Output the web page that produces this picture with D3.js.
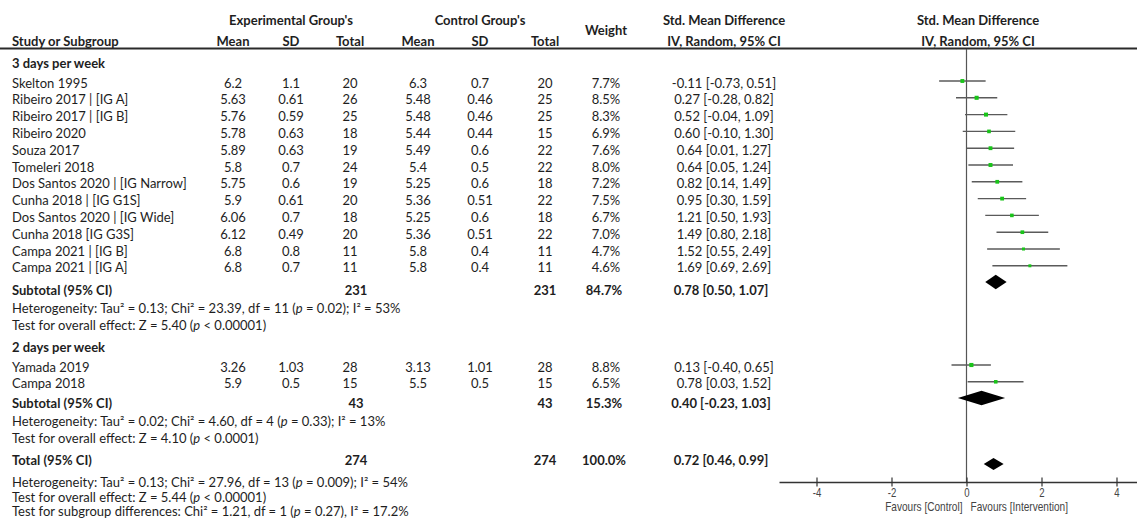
<!DOCTYPE html>
<html>
<head>
<meta charset="utf-8">
<script src="https://cdn.jsdelivr.net/npm/d3@7"></script>
<style>
  body { margin: 0; background: #fff; }
  svg { display: block; }
  text { font-family: Lato, "Open Sans", sans-serif; font-size: 13px; fill: #1e1e1e; }
  .b { font-weight: bold; }
  .ax text { font-family: "Liberation Sans Narrow", "Liberation Sans", Arial, sans-serif; font-size: 12px; fill: #444; }
</style>
</head>
<body>
<div id="chart"></div>
<script>
// studies, in plot order
const studyNames = ['Skelton 1995', 'Ribeiro 2017 | [IG A]', 'Ribeiro 2017 | [IG B]', 'Ribeiro 2020',
  'Souza 2017', 'Tomeleri 2018', 'Dos Santos 2020 | [IG Narrow]', 'Cunha 2018 | [IG G1S]',
  'Dos Santos 2020 | [IG Wide]', 'Cunha 2018 [IG G3S]', 'Campa 2021 | [IG B]', 'Campa 2021 | [IG A]',
  'Yamada 2019', 'Campa 2018']
const studyGroup = [0, 0, 0, 0, 0, 0, 0, 0, 0, 0, 0, 0, 1, 1]
const expMean = [6.2, 5.63, 5.76, 5.78, 5.89, 5.8, 5.75, 5.9, 6.06, 6.12, 6.8, 6.8, 3.26, 5.9]
const expSD = [1.1, 0.61, 0.59, 0.63, 0.63, 0.7, 0.6, 0.61, 0.7, 0.49, 0.8, 0.7, 1.03, 0.5]
const expN = [20, 26, 25, 18, 19, 24, 19, 20, 18, 20, 11, 11, 28, 15]
const ctrlMean = [6.3, 5.48, 5.48, 5.44, 5.49, 5.4, 5.25, 5.36, 5.25, 5.36, 5.8, 5.8, 3.13, 5.5]
const ctrlSD = [0.7, 0.46, 0.46, 0.44, 0.6, 0.5, 0.6, 0.51, 0.6, 0.51, 0.4, 0.4, 1.01, 0.5]
const ctrlN = [20, 25, 25, 15, 22, 22, 18, 22, 18, 22, 11, 11, 28, 15]
const weight = [7.7, 8.5, 8.3, 6.9, 7.6, 8.0, 7.2, 7.5, 6.7, 7.0, 4.7, 4.6, 8.8, 6.5]
const smd = [-0.11, 0.27, 0.52, 0.60, 0.64, 0.64, 0.82, 0.95, 1.21, 1.49, 1.52, 1.69, 0.13, 0.78]
const ciLow = [-0.73, -0.28, -0.04, -0.10, 0.01, 0.05, 0.14, 0.30, 0.50, 0.80, 0.55, 0.69, -0.40, 0.03]
const ciHigh = [0.51, 0.82, 1.09, 1.30, 1.27, 1.24, 1.49, 1.59, 1.93, 2.18, 2.49, 2.69, 0.65, 1.52]

// subgroups + overall
const groupNames = ['3 days per week', '2 days per week']
const groupExpN = [231, 43]
const groupCtrlN = [231, 43]
const groupWeight = [84.7, 15.3]
const groupSmd = [0.78, 0.40]
const groupLow = [0.50, -0.23]
const groupHigh = [1.07, 1.03]
const groupHet = ['Heterogeneity: Tau² = 0.13; Chi² = 23.39, df = 11 (p  = 0.02); I² = 53%',
  'Heterogeneity: Tau² = 0.02; Chi² = 4.60, df = 4 (p  = 0.33); I² = 13%']
const groupTest = ['Test for overall effect: Z = 5.40 (p < 0.00001)',
  'Test for overall effect: Z = 4.10 (p < 0.0001)']

const totalExpN = 274
const totalCtrlN = 274
const totalWeight = 100.0
const totalSmd = [0.72, 0.46, 0.99]
const totalNotes = ['Heterogeneity: Tau² = 0.13; Chi² = 27.96, df = 13 (p  = 0.009); I² = 54%',
  'Test for overall effect: Z = 5.44 (p < 0.00001)',
  'Test for subgroup differences: Chi² = 1.21, df = 1 (p  = 0.27), I² = 17.2%']

const axisTicks = [-4, -2, 0, 2, 4]

let width = 1137
let height = 519

// column centres
let col = { name: 12, eMean: 233, eSD: 291, eN: 350, cMean: 418, cSD: 480, cN: 545, w: 606, smd: 724, plot: 978 }

// row layout (text centre lines)
let rowStep = 16.8
let groupTop = [63, 347]
let groupFirst = [83, 367]
let subtotalY = [290, 403]
let totalY = 460
let notesY = [482, 497, 511]
let diamondY = [282, 398, 464]

let svg = d3.select('#chart').append('svg')
  .attr('width', width)
  .attr('height', height)

let x = d3.scaleLinear().domain([-5, 5]).range([779, 1154])
let box = d3.scaleSqrt().domain([0, 10]).range([0, 4.4])

function txt(g, s, px, py, anchor, bold) {
  return g.append('text')
    .attr('x', px).attr('y', py)
    .attr('dy', '0.35em')
    .attr('text-anchor', anchor || 'start')
    .attr('class', bold ? 'b' : null)
    .text(s)
}

// text with an italic p
function note(g, s, px, py) {
  let t = g.append('text').attr('x', px).attr('y', py).attr('dy', '0.35em')
  let parts = s.split('(p')
  t.append('tspan').text(parts[0] + '(')
  t.append('tspan').style('font-style', 'italic').text('p')
  t.append('tspan').text(parts[1])
}

let head = svg.append('g')
txt(head, "Experimental Group's", col.eSD, 20, 'middle', true)
txt(head, "Control Group's", col.cSD, 20, 'middle', true)
txt(head, 'Std. Mean Difference', col.smd, 20, 'middle', true)
txt(head, 'Std. Mean Difference', col.plot, 20, 'middle', true)
txt(head, 'Study or Subgroup', col.name, 41, 'start', true)
let sub = ['Mean', 'SD', 'Total']
;[[col.eMean, col.eSD, col.eN], [col.cMean, col.cSD, col.cN]].forEach(cs => {
  cs.forEach((c, i) => txt(head, sub[i], c, 41, 'middle', true))
})
txt(head, 'Weight', col.w, 30, 'middle', true)
txt(head, 'IV, Random, 95% CI', col.smd, 41, 'middle', true)
txt(head, 'IV, Random, 95% CI', col.plot, 41, 'middle', true)

svg.append('line')
  .attr('x1', 0).attr('x2', width)
  .attr('y1', 48.5).attr('y2', 48.5)
  .attr('stroke', '#2a2a2a').attr('stroke-width', 2)

// zero line
svg.append('line')
  .attr('x1', x(0)).attr('x2', x(0))
  .attr('y1', 49).attr('y2', 482)
  .attr('stroke', '#555').attr('stroke-width', 1.2)

let table = svg.append('g')
let marks = svg.append('g')
let fmt = v => v.toFixed(2)
let ciText = (m, l, h) => fmt(m) + ' [' + fmt(l) + ', ' + fmt(h) + ']'

function diamond(m, l, h, cy, hh) {
  marks.append('path')
    .attr('d', 'M' + x(l) + ',' + cy + 'L' + x(m) + ',' + (cy - hh) + 'L' + x(h) + ',' + cy + 'L' + x(m) + ',' + (cy + hh) + 'Z')
    .attr('fill', '#000')
}

groupNames.forEach((gname, g) => {
  txt(table, gname, col.name, groupTop[g], 'start', true)
  let idx = studyGroup.map((v, i) => v === g ? i : -1).filter(i => i >= 0)
  idx.forEach((i, k) => {
    let ry = groupFirst[g] + k * rowStep
    txt(table, studyNames[i], col.name, ry)
    txt(table, String(expMean[i]), col.eMean, ry, 'middle')
    txt(table, String(expSD[i]), col.eSD, ry, 'middle')
    txt(table, String(expN[i]), col.eN, ry, 'middle')
    txt(table, String(ctrlMean[i]), col.cMean, ry, 'middle')
    txt(table, String(ctrlSD[i]), col.cSD, ry, 'middle')
    txt(table, String(ctrlN[i]), col.cN, ry, 'middle')
    txt(table, weight[i].toFixed(1) + '%', col.w, ry, 'middle')
    txt(table, ciText(smd[i], ciLow[i], ciHigh[i]), col.smd, ry, 'middle')

    let my = ry - 2
    marks.append('line')
      .attr('x1', x(ciLow[i])).attr('x2', x(ciHigh[i]))
      .attr('y1', my).attr('y2', my)
      .attr('stroke', '#5a5a5a').attr('stroke-width', 1.4)
    let s = box(weight[i])
    marks.append('rect')
      .attr('x', x(smd[i]) - s / 2).attr('y', my - s / 2)
      .attr('width', s).attr('height', s)
      .attr('fill', '#19c419')
  })
  let sy = subtotalY[g]
  txt(table, 'Subtotal (95% CI)', col.name, sy, 'start', true)
  txt(table, String(groupExpN[g]), col.eN + 6, sy, 'middle', true)
  txt(table, String(groupCtrlN[g]), col.cN, sy, 'middle', true)
  txt(table, groupWeight[g].toFixed(1) + '%', col.w - 2, sy, 'middle', true)
  txt(table, ciText(groupSmd[g], groupLow[g], groupHigh[g]), col.smd - 3, sy, 'middle', true)
  note(table, groupHet[g], col.name, sy + 18)
  note(table, groupTest[g], col.name, sy + 35)
  diamond(groupSmd[g], groupLow[g], groupHigh[g], diamondY[g], 7.2)
})

txt(table, 'Total (95% CI)', col.name, totalY, 'start', true)
txt(table, String(totalExpN), col.eN + 6, totalY, 'middle', true)
txt(table, String(totalCtrlN), col.cN, totalY, 'middle', true)
txt(table, totalWeight.toFixed(1) + '%', col.w - 2, totalY, 'middle', true)
txt(table, ciText(totalSmd[0], totalSmd[1], totalSmd[2]), col.smd - 3, totalY, 'middle', true)
totalNotes.forEach((n, i) => note(table, n, col.name, notesY[i]))
diamond(totalSmd[0], totalSmd[1], totalSmd[2], diamondY[2], 6)

// x axis
let ax = svg.append('g')
  .attr('class', 'ax')
  .attr('transform', 'translate(0,482)')
  .call(d3.axisBottom(x).tickValues(axisTicks).tickFormat(d => String(d)).tickSize(4).tickSizeOuter(0))
ax.select('.domain').attr('stroke', '#333').attr('stroke-width', 1.3)
ax.selectAll('.tick line').attr('y1', -4.5).attr('y2', 4.5).attr('stroke', '#333').attr('stroke-width', 1.2)
ax.selectAll('.tick text').attr('y', 0).attr('dy', null)
  .attr('transform', 'translate(0,15) scale(0.8,1)').attr('fill', '#444')

// squeezed like the narrow RevMan labels
let fav = svg.append('g').attr('class', 'ax')
fav.append('text').attr('transform', 'translate(' + (x(0) - 4) + ',511) scale(0.84,1)')
  .attr('text-anchor', 'end').text('Favours [Control]')
fav.append('text').attr('transform', 'translate(' + (x(0) + 4) + ',511) scale(0.84,1)')
  .attr('text-anchor', 'start').text('Favours [Intervention]')
</script>
</body>
</html>
